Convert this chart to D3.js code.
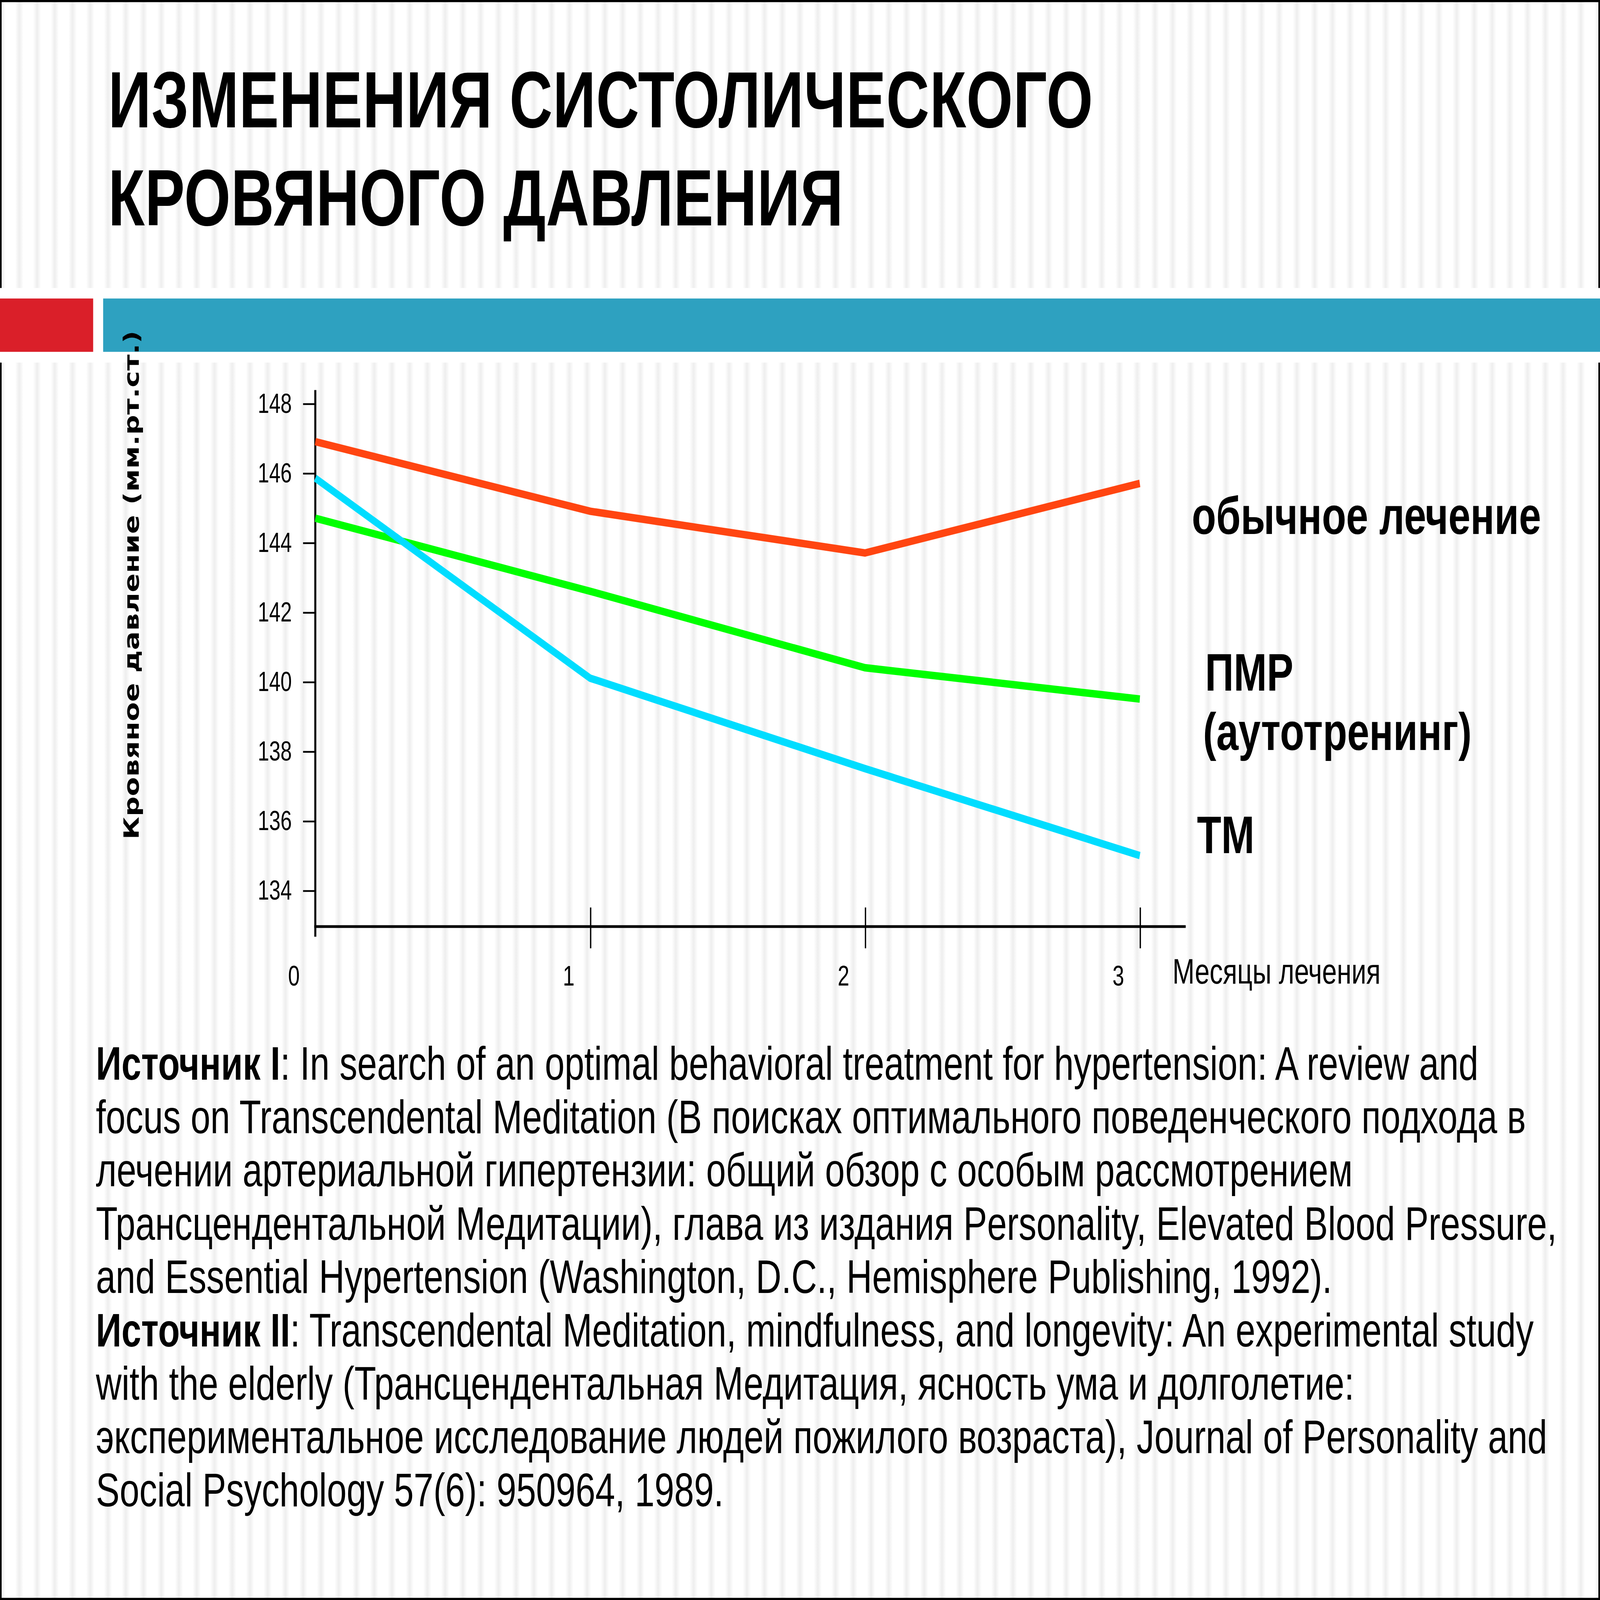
<!DOCTYPE html>
<html>
<head>
<meta charset="utf-8">
<script src="https://cdn.jsdelivr.net/npm/d3@7"></script>
<style>
  html, body { margin: 0; padding: 0; background: #fff; overflow: hidden; width: 100%; height: 100%; }
  #chart, svg { display: block; width: 100vw; height: 100vh; }
</style>
</head>
<body>
<div id="chart"></div>
<script>
// данные
const months = [0, 1, 2, 3];
const yTicks = [134, 136, 138, 140, 142, 144, 146, 148];
const xTickLabels = ["0", "1", "2", "3"];
const seriesNames = ["обычное лечение", "ПМР", "ТМ"];
const usualCare = [146.9, 144.9, 143.7, 145.7];
const pmr = [144.7, 142.6, 140.4, 139.5];
const tm = [145.85, 140.1, 137.5, 135.0];

const titleLines = ["ИЗМЕНЕНИЯ СИСТОЛИЧЕСКОГО", "КРОВЯНОГО ДАВЛЕНИЯ"];
const yTitle = "Кровяное давление (мм.рт.ст.)";
const xTitle = "Месяцы лечения";

// строки источников: [жирная часть, обычная часть]
const sourceLines = [
  ["Источник I", ": In search of an optimal behavioral treatment for hypertension: A review and"],
  ["", "focus on Transcendental Meditation (В поисках оптимального поведенческого подхода в"],
  ["", "лечении артериальной гипертензии: общий обзор с особым рассмотрением"],
  ["", "Трансцендентальной Медитации), глава из издания Personality, Elevated Blood Pressure,"],
  ["", "and Essential Hypertension (Washington, D.C., Hemisphere Publishing, 1992)."],
  ["Источник II", ": Transcendental Meditation, mindfulness, and longevity: An experimental study"],
  ["", "with the elderly (Трансцендентальная Медитация, ясность ума и долголетие:"],
  ["", "экспериментальное исследование людей пожилого возраста), Journal of Personality and"],
  ["", "Social Psychology 57(6): 950964, 1989."]
];

const W = 1568, H = 1176;
const sans = "'Liberation Sans', Arial, sans-serif";

// рисуем в координатах 1568x1176 и растягиваем на всё окно
const svg = d3.select("#chart").append("svg")
  .attr("viewBox", `0 0 ${W} ${H}`)
  .attr("preserveAspectRatio", "none");

// фон с вертикальными полосками
const defs = svg.append("defs");
const grad = defs.append("linearGradient").attr("id", "stripeGrad");
grad.append("stop").attr("offset", "0%").attr("stop-color", "#ffffff");
grad.append("stop").attr("offset", "50%").attr("stop-color", "#eeeeee");
grad.append("stop").attr("offset", "100%").attr("stop-color", "#ffffff");
const pat = defs.append("pattern")
  .attr("id", "stripes")
  .attr("patternUnits", "userSpaceOnUse")
  .attr("x", 10.2).attr("y", 0)
  .attr("width", 17.39).attr("height", H);
pat.append("rect").attr("width", 17.39).attr("height", H).attr("fill", "#fff");
pat.append("rect").attr("x", 4.7).attr("width", 8).attr("height", H).attr("fill", "url(#stripeGrad)");

svg.append("rect").attr("width", W).attr("height", H).attr("fill", "url(#stripes)");

// белая полоса с цветными плашками
svg.append("rect").attr("x", 0).attr("y", 211.7).attr("width", W).attr("height", 54.8).attr("fill", "#fff");
svg.append("rect").attr("x", 0).attr("y", 219.4).attr("width", 91.3).attr("height", 39.2).attr("fill", "#da1f29");
svg.append("rect").attr("x", 101.1).attr("y", 219.4).attr("width", W - 101.1).attr("height", 39.2).attr("fill", "#2ea1c0");

// рамка (прерывается на полосе)
const frame = svg.append("g").attr("stroke", "#000").attr("stroke-width", 2.2).attr("fill", "none");
frame.append("path").attr("d", `M0.5,211.7 V0.5 H${W - 0.5} V211.7`);
frame.append("path").attr("d", `M0.5,266.5 V${H - 0.5} H${W - 0.5} V266.5`);

// заголовок
svg.append("g").selectAll("text")
  .data(titleLines)
  .join("text")
  .attr("x", 106)
  .attr("y", (d, i) => 93.7 + i * 72)
  .attr("font-family", sans)
  .attr("font-weight", "bold")
  .attr("font-size", 58.5)
  .attr("letter-spacing", 0.3)
  .attr("fill", "#000")
  .text(d => d);

// шкалы
const x = d3.scaleLinear().domain([0, 3]).range([309, 1117]);
const y = d3.scaleLinear().domain([134, 148]).range([654.4, 296.5]);
const axisY0 = 681;

// ось Y
const gy = svg.append("g").attr("transform", `translate(${x(0)},0)`)
  .call(d3.axisLeft(y).tickValues(yTicks).tickSize(12).tickPadding(11));
gy.select(".domain").remove();
gy.selectAll(".tick line").attr("stroke", "#000").attr("stroke-width", 1.3);
gy.selectAll(".tick text")
  .attr("font-family", sans)
  .attr("font-size", 20)
  .attr("fill", "#000");
gy.append("line")
  .attr("x1", 0).attr("x2", 0)
  .attr("y1", 286.7).attr("y2", 688.5)
  .attr("stroke", "#000").attr("stroke-width", 2);

// ось X
const gx = svg.append("g").attr("transform", `translate(0,${axisY0})`)
  .call(d3.axisBottom(x).tickValues(months.slice(1)).tickSize(16).tickFormat(""));
gx.select(".domain").remove();
gx.selectAll(".tick line").attr("y1", -14).attr("stroke", "#000").attr("stroke-width", 1.3);
gx.append("line")
  .attr("x1", x(0) - 1).attr("x2", 1162)
  .attr("y1", 0).attr("y2", 0)
  .attr("stroke", "#000").attr("stroke-width", 2);
gx.selectAll(".xlab")
  .data(months)
  .join("text")
  .attr("class", "xlab")
  .attr("x", d => x(d) - 21)
  .attr("y", 43.5)
  .attr("text-anchor", "middle")
  .attr("font-family", sans)
  .attr("font-size", 20.5)
  .attr("fill", "#000")
  .text((d, i) => xTickLabels[i]);

// подписи осей
svg.append("text")
  .attr("x", 1149)
  .attr("y", 723)
  .attr("font-family", sans)
  .attr("font-size", 26)
  .attr("fill", "#000")
  .text(xTitle);

svg.append("text")
  .attr("transform", "translate(136,430) rotate(-90)")
  .attr("text-anchor", "middle")
  .attr("font-family", "'DejaVu Sans', sans-serif")
  .attr("font-weight", "bold")
  .attr("font-size", 20.5)
  .attr("textLength", 374)
  .attr("lengthAdjust", "spacing")
  .attr("fill", "#000")
  .text(yTitle);

// линии
const series = [
  { name: seriesNames[0], values: usualCare, color: "#ff4511" },
  { name: seriesNames[1], values: pmr, color: "#00ff00" },
  { name: seriesNames[2], values: tm, color: "#00ddff" }
];

const line = d3.line()
  .x((d, i) => x(months[i]))
  .y(d => y(d));

svg.append("g").selectAll("path")
  .data(series)
  .join("path")
  .attr("d", d => line(d.values))
  .attr("fill", "none")
  .attr("stroke", d => d.color)
  .attr("stroke-width", 5.5)
  .attr("stroke-linejoin", "miter");

// подписи серий
const legendLabels = [
  { lines: ["обычное лечение"], x: 1168, y: 392.5 },
  { lines: ["ПМР", "(аутотренинг)"], x: 1179, y: 507.5 },
  { lines: ["ТМ"], x: 1173, y: 627 }
];
const lg = svg.append("g");
legendLabels.forEach(l => {
  l.lines.forEach((t, i) => {
    lg.append("text")
      .attr("x", l.x + (i === 0 && l.lines.length > 1 ? 2 : 0))
      .attr("y", l.y + i * 43.8)
      .attr("font-family", sans)
      .attr("font-weight", "bold")
      .attr("font-size", 39)
      .attr("fill", "#000")
      .text(t);
  });
});

// источники
const src = svg.append("g");
sourceLines.forEach((s, i) => {
  const t = src.append("text")
    .attr("x", 94)
    .attr("y", 793.6 + i * 39.2)
    .attr("font-family", sans)
    .attr("font-size", 34.8)
    .attr("fill", "#000");
  if (s[0]) t.append("tspan").attr("font-weight", "bold").text(s[0]);
  t.append("tspan").text(s[1]);
});
</script>
</body>
</html>
